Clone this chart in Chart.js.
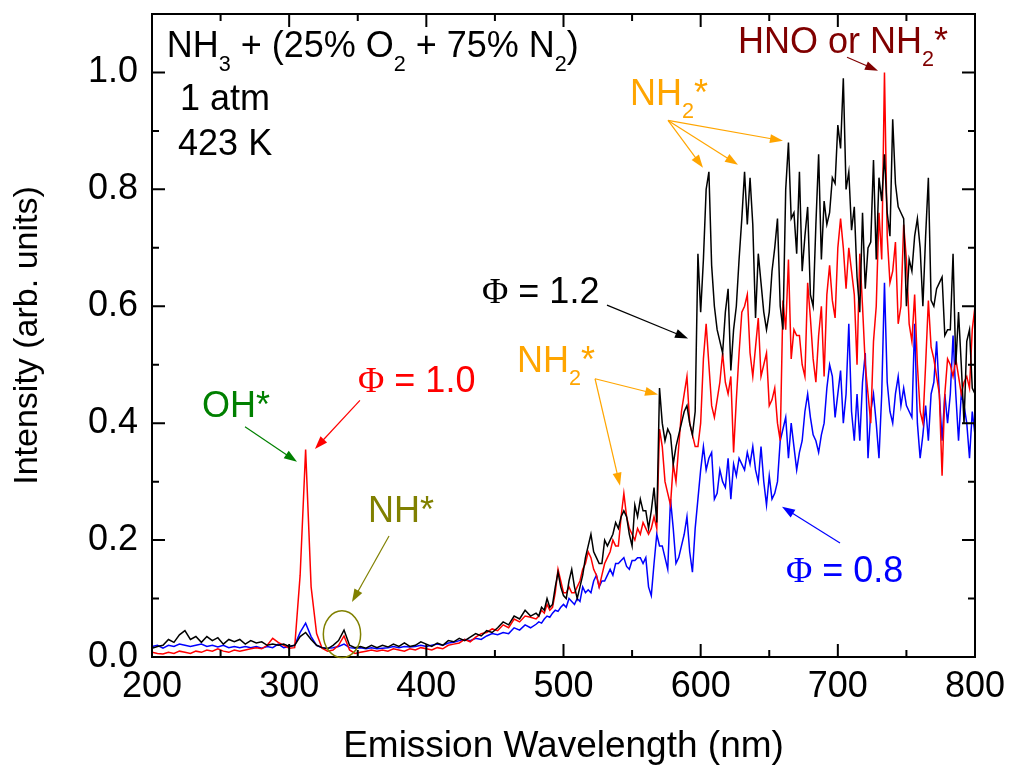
<!DOCTYPE html>
<html><head><meta charset="utf-8">
<script src="https://cdn.jsdelivr.net/npm/chart.js@4.4.1/dist/chart.umd.min.js"></script>
<style>html,body{margin:0;padding:0;background:#fff;overflow:hidden}#wrap{width:1009px;height:769px}</style>
</head><body><div id="wrap"><canvas id="c" width="1009" height="769"></canvas></div>
<script>
// ---------- data ----------
const wavelengths = [
200,204,208,212,216,220,224,228,232,236,
240,244,248,252,256,260,264,268,272,276,
280,284,288,292,296,300,304,308,312,316,
320,324,328,332,336,340,344,348,352,356,
360,364,368,372,376,380,384,388,392,396,
400,404,408,412,416,420,424,428,432,436,
440,444,448,452,456,460,464,468,472,476,
480,482,484,486,488,490,492,494,496,498,
500,502,504,506,508,510,512,514,516,518,
520,522,524,526,528,530,532,534,536,538,
540,542,544,546,548,550,552,554,556,558,
560,562,564,566,568,570,572,574,576,578,
580,582,584,586,588,590,592,594,596,598,
600,602,604,606,608,610,612,614,616,618,
620,622,624,626,628,630,632,634,636,638,
640,642,644,646,648,650,652,654,656,658,
660,662,664,666,668,670,672,674,676,678,
680,682,684,686,688,690,692,694,696,698,
700,702,704,706,708,710,712,714,716,718,
720,722,724,726,728,730,732,734,736,738,
740,742,744,746,748,750,752,754,756,758,
760,762,764,766,768,770,772,774,776,778,
780,782,784,786,788,790,792,794,796,798,
800];
const phi12 = [
.015,.018,.020,.030,.025,.038,.045,.030,.035,.025,
.035,.028,.033,.022,.030,.026,.030,.022,.028,.024,
.026,.020,.022,.020,.022,.018,.020,.035,.042,.030,
.020,.016,.014,.020,.028,.046,.020,.016,.018,.015,
.020,.016,.020,.017,.022,.018,.024,.018,.020,.026,
.022,.018,.024,.020,.028,.026,.032,.028,.034,.040,
.036,.045,.042,.050,.060,.055,.070,.065,.080,.070,
.075,.070,.085,.080,.100,.085,.090,.120,.145,.120,
.105,.100,.130,.150,.120,.100,.120,.140,.170,.190,
.210,.180,.170,.160,.160,.200,.190,.200,.210,.230,
.220,.240,.250,.240,.210,.190,.260,.240,.270,.250,
.250,.220,.250,.290,.230,.460,.400,.370,.390,.380,
.330,.360,.380,.400,.420,.430,.400,.380,.420,.690,
.590,.680,.800,.830,.670,.600,.560,.540,.520,.590,
.630,.490,.560,.600,.680,.750,.830,.740,.820,.740,
.580,.690,.640,.590,.560,.590,.660,.700,.750,.600,
.560,.800,.880,.750,.760,.690,.830,.660,.720,.770,
.620,.600,.740,.860,.680,.780,.740,.760,.820,.810,
.910,.870,.990,.800,.830,.730,.770,.650,.590,.760,
.630,.700,.710,.850,.680,.820,.780,.860,.760,.720,
.920,.810,.770,.760,.750,.600,.680,.660,.720,.750,
.700,.600,.720,.820,.610,.600,.630,.640,.650,.550,
.560,.560,.690,.500,.590,.500,.400,.540,.560,.460,
.450];
const phi10 = [
.008,.006,.005,.008,.006,.010,.008,.006,.010,.008,
.012,.010,.014,.010,.008,.012,.010,.012,.014,.016,
.014,.020,.032,.025,.020,.015,.016,.140,.355,.120,
.040,.015,.010,.012,.020,.036,.012,.006,.008,.010,
.012,.010,.012,.010,.014,.012,.010,.014,.012,.016,
.014,.012,.016,.014,.020,.022,.024,.030,.026,.034,
.040,.042,.048,.045,.055,.050,.065,.060,.070,.068,
.065,.070,.080,.075,.090,.080,.085,.110,.150,.130,
.110,.110,.120,.110,.110,.120,.130,.150,.160,.180,
.170,.150,.140,.120,.140,.160,.170,.180,.200,.190,
.190,.240,.280,.240,.220,.210,.200,.220,.210,.230,
.220,.210,.220,.240,.220,.390,.360,.300,.280,.260,
.330,.300,.360,.420,.450,.480,.400,.380,.360,.360,
.400,.510,.570,.500,.430,.410,.440,.470,.520,.470,
.450,.480,.350,.440,.520,.590,.600,.620,.520,.480,
.530,.580,.480,.500,.520,.430,.440,.460,.400,.370,
.610,.560,.680,.510,.560,.550,.550,.500,.480,.640,
.580,.510,.470,.550,.600,.480,.620,.670,.610,.580,
.700,.750,.700,.630,.700,.660,.620,.500,.690,.600,
.500,.450,.400,.540,.600,.760,.680,1.00,.720,.640,
.660,.710,.570,.600,.740,.680,.570,.540,.620,.500,
.420,.400,.500,.610,.530,.510,.480,.450,.310,.450,
.510,.500,.480,.510,.480,.450,.470,.480,.460,.560,
.600];
const phi08 = [
.018,.020,.015,.020,.018,.022,.020,.018,.020,.022,
.018,.020,.017,.020,.016,.018,.016,.018,.016,.018,
.015,.018,.016,.022,.016,.018,.020,.042,.058,.035,
.020,.016,.015,.016,.018,.022,.016,.015,.016,.014,
.016,.014,.015,.016,.018,.016,.018,.017,.018,.020,
.018,.020,.022,.020,.024,.025,.028,.030,.028,.032,
.030,.036,.040,.038,.042,.040,.050,.046,.055,.050,
.056,.060,.058,.065,.070,.068,.075,.080,.078,.085,
.090,.085,.100,.095,.090,.100,.095,.120,.110,.115,
.110,.130,.140,.120,.130,.130,.140,.150,.140,.160,
.160,.165,.170,.155,.150,.165,.165,.170,.170,.160,
.170,.120,.105,.160,.210,.190,.190,.170,.150,.270,
.220,.160,.170,.190,.210,.240,.180,.145,.220,.270,
.320,.360,.320,.340,.350,.270,.280,.320,.300,.290,
.340,.270,.330,.310,.340,.330,.320,.350,.330,.360,
.320,.300,.360,.300,.260,.310,.270,.280,.300,.370,
.390,.410,.340,.400,.360,.320,.350,.370,.420,.450,
.410,.380,.370,.350,.380,.400,.460,.500,.480,.410,
.450,.490,.400,.450,.570,.420,.370,.450,.370,.470,
.520,.340,.420,.450,.400,.340,.450,.640,.470,.420,
.400,.450,.480,.430,.460,.430,.420,.410,.570,.400,
.340,.380,.430,.370,.450,.470,.540,.450,.370,.450,
.400,.450,.550,.450,.370,.450,.430,.400,.340,.420,
.380];
const xTicks = [200,300,400,500,600,700,800];
const xMinorTicks = [250,350,450,550,650,750];
const yTicks = [0.0,0.2,0.4,0.6,0.8,1.0];
const yMinorTicks = [0.1,0.3,0.5,0.7,0.9];

// ---------- annotations (data coordinates) ----------
const SANS = "'Liberation Sans', Arial, Helvetica, sans-serif";
const SERIF = "'Liberation Serif', 'Times New Roman', serif";
const notes = [
 {segs:[{t:'NH'},{t:'3',sub:1},{t:' + (25% O'},{t:'2',sub:1},{t:' + 75% N'},{t:'2',sub:1},{t:')'}], x:210.7, y:1.026, color:'#000000'},
 {segs:[{t:'1 atm'}], x:220.4, y:0.935, color:'#000000'},
 {segs:[{t:'423 K'}], x:219, y:0.859, color:'#000000'},
 {segs:[{t:'HNO or NH'},{t:'2',sub:1},{t:'*'}], x:627.2, y:1.034, color:'#800000'},
 {segs:[{t:'NH'},{t:'2',sub:1},{t:'*'}], x:548.5, y:0.945, color:'#FFA500'},
 {segs:[{t:'\u03A6',serif:1},{t:' = 1.2'}], x:440.6, y:0.605, color:'#000000'},
 {segs:[{t:'NH'},{t:'2',sub:1},{t:'*'}], x:466.1, y:0.488, color:'#FFA500'},
 {segs:[{t:'\u03A6',serif:1},{t:' = 1.0'}], x:350.2, y:0.454, color:'#FF0000'},
 {segs:[{t:'OH*'}], x:236.5, y:0.411, color:'#008000'},
 {segs:[{t:'NH*'}], x:357.5, y:0.231, color:'#808000'},
 {segs:[{t:'\u03A6',serif:1},{t:' = 0.8'}], x:662.2, y:0.128, color:'#0000FF'}
];
const arrows = [
 {from:[706.7,1.026], to:[729.3,1.003], color:'#800000'},
 {from:[576.2,0.918], to:[601.7,0.837], color:'#FFA500'},
 {from:[576.2,0.918], to:[627.2,0.842], color:'#FFA500'},
 {from:[576.2,0.918], to:[660.0,0.883], color:'#FFA500'},
 {from:[531.7,0.602], to:[590.8,0.545], color:'#000000'},
 {from:[523.0,0.476], to:[568.9,0.449], color:'#FFA500'},
 {from:[523.0,0.476], to:[541.2,0.293], color:'#FFA500'},
 {from:[351.6,0.439], to:[318.8,0.356], color:'#FF0000'},
 {from:[267.8,0.394], to:[305.7,0.334], color:'#008000'},
 {from:[372.8,0.207], to:[345.8,0.094], color:'#808000'},
 {from:[701.6,0.195], to:[659.3,0.257], color:'#0000FF'}
];
const ellipseNote = {x:338.5, y:0.039, rx:13.6, ry:0.040, color:'#808000'};

const FS = 36;
function drawRich(ctx, segs, x, y, color){
  let cx = x;
  ctx.fillStyle = color; ctx.textAlign='left'; ctx.textBaseline='alphabetic';
  for (const s of segs){
    const fs = s.sub ? FS*0.6 : FS;
    ctx.font = fs + 'px ' + (s.serif ? SERIF : SANS);
    const dy = s.sub ? FS*0.38 : 0;
    ctx.fillText(s.t, cx, y + dy);
    cx += ctx.measureText(s.t).width;
  }
}
function drawArrow(ctx, x1,y1,x2,y2,color){
  const ang = Math.atan2(y2-y1, x2-x1);
  const L = 13, W = 4.5;
  ctx.strokeStyle = color; ctx.fillStyle = color; ctx.lineWidth = 1.2;
  ctx.beginPath(); ctx.moveTo(x1,y1);
  ctx.lineTo(x2 - Math.cos(ang)*L*0.8, y2 - Math.sin(ang)*L*0.8); ctx.stroke();
  ctx.beginPath();
  ctx.moveTo(x2,y2);
  ctx.lineTo(x2 - Math.cos(ang)*L - Math.sin(ang)*W, y2 - Math.sin(ang)*L + Math.cos(ang)*W);
  ctx.lineTo(x2 - Math.cos(ang)*L + Math.sin(ang)*W, y2 - Math.sin(ang)*L - Math.cos(ang)*W);
  ctx.closePath(); ctx.fill();
}

const overlay = {
  id:'overlay',
  afterDatasetsDraw(chart){
    const {ctx, chartArea:a, scales:{x, y}} = chart;
    ctx.save();
    ctx.strokeStyle='#000'; ctx.lineWidth=2; ctx.lineCap='butt';
    ctx.beginPath();
    const tx = (v,len)=>{const p=x.getPixelForValue(v); ctx.moveTo(p,a.bottom); ctx.lineTo(p,a.bottom-len); ctx.moveTo(p,a.top); ctx.lineTo(p,a.top+len);};
    const ty = (v,len)=>{const p=y.getPixelForValue(v); ctx.moveTo(a.left,p); ctx.lineTo(a.left+len,p); ctx.moveTo(a.right,p); ctx.lineTo(a.right-len,p);};
    xTicks.forEach(v=>tx(v,13)); xMinorTicks.forEach(v=>tx(v,7));
    yTicks.forEach(v=>ty(v,13)); yMinorTicks.forEach(v=>ty(v,7));
    ctx.stroke();
    ctx.strokeRect(a.left, a.top, a.right-a.left, a.bottom-a.top);
    const ex = x.getPixelForValue(ellipseNote.x), ey = y.getPixelForValue(ellipseNote.y);
    const erx = x.getPixelForValue(ellipseNote.x+ellipseNote.rx)-ex;
    const ery = ey - y.getPixelForValue(ellipseNote.y+ellipseNote.ry);
    ctx.strokeStyle=ellipseNote.color; ctx.lineWidth=1.5;
    ctx.beginPath(); ctx.ellipse(ex,ey,erx,ery,0,0,Math.PI*2); ctx.stroke();
    for (const ar of arrows){
      drawArrow(ctx, x.getPixelForValue(ar.from[0]), y.getPixelForValue(ar.from[1]),
                     x.getPixelForValue(ar.to[0]), y.getPixelForValue(ar.to[1]), ar.color);
    }
    for (const n of notes){
      drawRich(ctx, n.segs, x.getPixelForValue(n.x), y.getPixelForValue(n.y), n.color);
    }
    ctx.restore();
  }
};

const mk = (arr)=>wavelengths.map((w,i)=>({x:w, y:arr[i]}));
new Chart(document.getElementById('c'), {
  type:'line',
  data:{datasets:[
    {label:'\u03A6 = 1.2', data:mk(phi12), borderColor:'#000000', borderWidth:1.5, pointRadius:0, tension:0},
    {label:'\u03A6 = 1.0', data:mk(phi10), borderColor:'#FF0000', borderWidth:1.5, pointRadius:0, tension:0},
    {label:'\u03A6 = 0.8', data:mk(phi08), borderColor:'#0000FF', borderWidth:1.5, pointRadius:0, tension:0}
  ]},
  options:{
    responsive:false, animation:false, devicePixelRatio:1,
    layout:{padding:{left:0,right:34,top:14,bottom:0}},
    plugins:{legend:{display:false}, tooltip:{enabled:false}},
    scales:{
      x:{type:'linear', min:200, max:800,
        afterBuildTicks:s=>{s.ticks = xTicks.map(v=>({value:v}));},
        afterFit:s=>{s.height=112; s.paddingLeft=0; s.paddingRight=0;},
        grid:{display:false, drawTicks:false}, border:{display:false},
        ticks:{color:'#000', font:{family:SANS, size:36}, padding:8, maxRotation:0, autoSkip:false, callback:v=>String(v)},
        title:{display:true, text:'Emission Wavelength (nm)', color:'#000', font:{family:SANS, size:37}, padding:{top:0,bottom:0}}
      },
      y:{type:'linear', min:0, max:1.1,
        afterBuildTicks:s=>{s.ticks = yTicks.map(v=>({value:v}));},
        afterFit:s=>{s.width=152; s.paddingTop=0; s.paddingBottom=0;},
        grid:{display:false, drawTicks:false}, border:{display:false},
        ticks:{color:'#000', font:{family:SANS, size:36}, padding:14, callback:v=>Number(v).toFixed(1)},
        title:{display:true, text:'Intensity (arb. units)', color:'#000', font:{family:SANS, size:34}, padding:{top:7,bottom:0}}
      }
    }
  },
  plugins:[overlay]
});
</script>
</body></html>
